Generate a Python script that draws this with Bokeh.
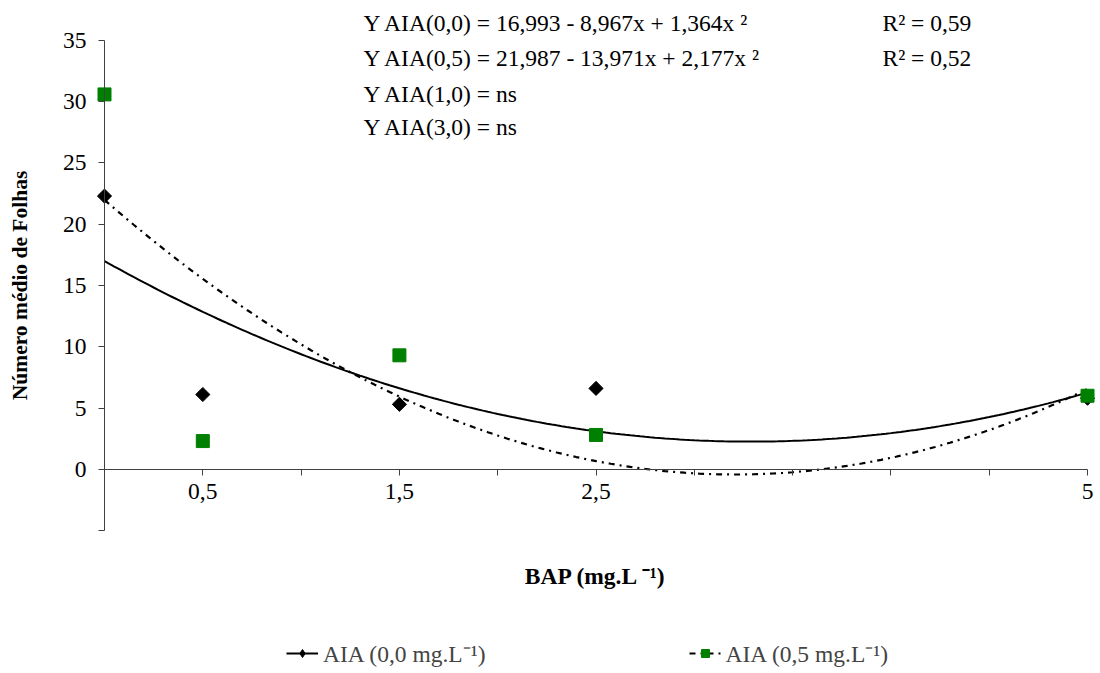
import numpy as np
from bokeh.plotting import figure
from bokeh.models import Range1d, FixedTicker, Label, Legend, LegendItem
from bokeh.embed import file_html
from bokeh.resources import INLINE

# BAP concentrations (mg/L) and mean leaf counts per AIA level
bap = [0, 0.5, 1.5, 2.5, 5]
aia_00 = [22.3, 6.1, 5.3, 6.6, 5.8]
aia_05 = [30.6, 2.3, 9.3, 2.8, 6.0]

# quadratic fits: y = c0 + c1*x + c2*x^2
coef_00 = [16.993, -8.967, 1.364]
coef_05 = [21.987, -13.971, 2.177]

y_ticks = [-5, 0, 5, 10, 15, 20, 25, 30, 35]
x_ticks = [0, 0.5, 1, 1.5, 2, 2.5, 3, 3.5, 4, 4.5, 5]
x_tick_text = {0.5: "0,5", 1.5: "1,5", 2.5: "2,5", 5: "5"}

equations = [
    "Y AIA(0,0) = 16,993 - 8,967x + 1,364x \u00b2",
    "Y AIA(0,5) = 21,987 - 13,971x + 2,177x \u00b2",
    "Y AIA(1,0) = ns",
    "Y AIA(3,0) = ns",
]
r2_text = ["R\u00b2 = 0,59", "R\u00b2 = 0,52"]

FONT = "'Liberation Serif', 'Times New Roman', serif"
AXIS_COLOR = "#404040"
FS = "23.5px"

# the plotting area spans the whole canvas; both axes cross at the origin
p = figure(width=1100, height=673, output_backend="svg", toolbar_location=None,
           x_range=Range1d(-0.529, 5.066), y_range=Range1d(-16.673, 38.265),
           min_border=0)
p.outline_line_color = None
p.grid.visible = False
p.background_fill_color = "white"

xs = np.linspace(0, 5, 201)
fit_00 = coef_00[0] + coef_00[1] * xs + coef_00[2] * xs ** 2
fit_05 = coef_05[0] + coef_05[1] * xs + coef_05[2] * xs ** 2

l00 = p.line(xs, fit_00, line_color="black", line_width=2)
l05 = p.line(xs, fit_05, line_color="black", line_width=2.2, line_dash="6 5 2 5")
m00 = p.scatter(bap, aia_00, marker="square", angle=np.pi / 4, size=10,
                fill_color="black", line_color="black")
m05 = p.scatter(bap, aia_05, marker="square", size=13,
                fill_color="#008000", line_color="#008000")
# key symbols shown only in the legend (no plottable position)
k00 = p.scatter(x=[np.nan], y=[np.nan], marker="diamond", size=12,
                fill_color="black", line_color="black")
k05 = p.scatter(x=[np.nan], y=[np.nan], marker="square", size=12,
                fill_color="#008000", line_color="#008000")

# y axis
ya = p.yaxis[0]
ya.fixed_location = 0
ya.bounds = (-5, 35)
ya.ticker = FixedTicker(ticks=y_ticks)
ya.major_label_overrides = {-5: ""}
ya.minor_tick_line_color = None
ya.major_tick_in = 0
ya.major_tick_out = 6
ya.axis_line_color = AXIS_COLOR
ya.major_tick_line_color = AXIS_COLOR
ya.major_label_text_font = FONT
ya.major_label_text_font_size = FS
ya.major_label_text_color = "black"
ya.major_label_standoff = 12
ya.axis_label = "Número médio de Folhas"
ya.axis_label_text_font = FONT
ya.axis_label_text_font_size = "21.5px"
ya.axis_label_text_font_style = "bold"
ya.axis_label_text_color = "black"
ya.axis_label_standoff = 28

# x axis drawn along y = 0
xa = p.xaxis[0]
xa.fixed_location = 0
xa.bounds = (0, 5)
xa.ticker = FixedTicker(ticks=x_ticks)
xa.major_label_overrides = {t: x_tick_text.get(t, "") for t in x_ticks}
xa.minor_tick_line_color = None
xa.major_tick_in = 0
xa.major_tick_out = 6
xa.axis_line_color = AXIS_COLOR
xa.major_tick_line_color = AXIS_COLOR
xa.major_label_text_font = FONT
xa.major_label_text_font_size = FS
xa.major_label_text_color = "black"
xa.major_label_standoff = 9
xa.axis_label = "BAP (mg.L \u207b\u00b9)"
xa.axis_label_text_font = FONT
xa.axis_label_text_font_size = FS
xa.axis_label_text_font_style = "bold"
xa.axis_label_text_color = "black"
xa.axis_label_standoff = 60

# regression equations
eq_y = [36.4, 33.55, 30.6, 27.9]
for txt, yy in zip(equations, eq_y):
    p.add_layout(Label(x=1.317, y=yy, text=txt, text_font=FONT,
                       text_font_size=FS, text_baseline="middle",
                       text_align="left", text_color="black"))
for txt, yy in zip(r2_text, eq_y[:2]):
    p.add_layout(Label(x=3.957, y=yy, text=txt, text_font=FONT,
                       text_font_size=FS, text_baseline="middle",
                       text_align="left", text_color="black"))

legend = Legend(items=[
    LegendItem(label="AIA (0,0 mg.L\u207b\u00b9)", renderers=[l00, k00]),
    LegendItem(label="AIA (0,5 mg.L\u207b\u00b9)", renderers=[l05, k05]),
], orientation="horizontal", location=(286, 4), spacing=203,
    padding=0, margin=0, border_line_color=None, background_fill_alpha=0,
    label_text_font=FONT, label_text_font_size=FS, glyph_width=32,
    label_standoff=5)
p.add_layout(legend, "center")

open("out.html", "w").write(file_html(p, INLINE))
